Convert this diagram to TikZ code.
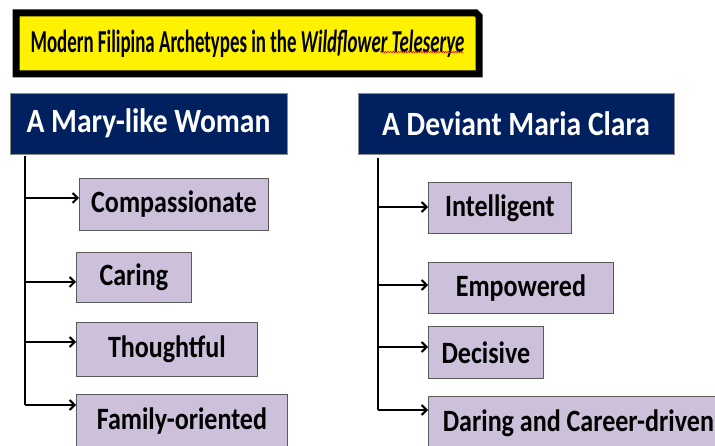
\documentclass[tikz,border=0pt]{standalone}
\usepackage{fontspec}
\setmainfont{Carlito}
\newfontfamily\titlefont[FakeStretch=0.59]{Carlito}
\newfontfamily\headfont[FakeStretch=0.87]{Carlito}
\newfontfamily\boxfont[FakeStretch=0.84]{Carlito}
\usepackage{tikz}
\usetikzlibrary{shapes,arrows.meta,decorations.pathmorphing}
\definecolor{navy}{HTML}{002060}
\definecolor{lavender}{HTML}{CCC0DA}

\begin{document}
\begin{tikzpicture}[x=1pt,y=-1pt]
\tikzstyle{titlebox}=[chamfered rectangle,chamfered rectangle corners=north east,chamfered rectangle xsep=1.5pt,chamfered rectangle ysep=1.5pt,draw=black,line width=7pt,fill=yellow,minimum width=463pt,minimum height=61pt,font={\titlefont\bfseries\fontsize{32}{32}\selectfont}]
\tikzstyle{headbox}=[draw=black!45,line width=0.8pt,fill=navy,text=white,minimum height=61pt,font={\headfont\bfseries\fontsize{34}{34}\selectfont}]
\tikzstyle{trait}=[draw=black!65,line width=0.8pt,fill=lavender,anchor=north west,font={\boxfont\bfseries\fontsize{31}{31}\selectfont}]
\tikzstyle{trunk}=[line width=2.2pt]
\tikzstyle{branch}=[-{Straight Barb[length=5pt,width=10pt,line width=2pt]},line width=2.2pt]

\useasboundingbox (0,0) rectangle (715,446);

\node [titlebox] (title) at (247.5,43.5) {Modern Filipina Archetypes in the \textit{Wildflower Teleserye}};
\draw [red,line width=0.6pt,decorate,decoration={snake,amplitude=0.7pt,segment length=2.5pt}] (380,52) -- (463,52);

\node [headbox,minimum width=277pt] (mary) at (148.5,123.5) {A Mary-like Woman};
\node [headbox,minimum width=316pt] (clara) at (516,123.5) {A Deviant Maria Clara};

% left column
\node [trait,minimum width=189pt,minimum height=52pt] (comp) at (79,178) {Compassionate};
\node [trait,minimum width=115pt,minimum height=50pt] (caring) at (76,252) {Caring};
\node [trait,minimum width=181pt,minimum height=54pt] (thought) at (76,322) {Thoughtful};
\node [trait,minimum width=211pt,minimum height=54pt] (family) at (76,394) {Family-oriented};

% right column
\node [trait,minimum width=143pt,minimum height=51pt] (intel) at (428,182) {Intelligent};
\node [trait,minimum width=185pt,minimum height=51pt] (empow) at (428,262) {Empowered};
\node [trait,minimum width=115pt,minimum height=52pt] (decis) at (428,326) {Decisive};
\node [trait,minimum width=300pt,minimum height=54pt] (daring) at (428,396) {Daring and Career-driven};

\coordinate (m0) at (25,156);
\coordinate (m1) at (25,198);
\coordinate (m2) at (25,282);
\coordinate (m3) at (25,342);
\coordinate (m4) at (25,405);
\coordinate (c0) at (378,158);
\coordinate (c1) at (378,207);
\coordinate (c2) at (378,285);
\coordinate (c3) at (378,347);
\coordinate (c4) at (378,410);

\draw [trunk] (m0) -- (m4);
\draw [trunk] (c0) -- (c4);

\path [branch]
 (m1) edge (m1 -| comp.west)
 (m2) edge (m2 -| caring.west)
 (m3) edge (m3 -| thought.west)
 (m4) edge (m4 -| family.west)
 (c1) edge (c1 -| intel.west)
 (c2) edge (c2 -| empow.west)
 (c3) edge (c3 -| decis.west)
 (c4) edge (c4 -| daring.west);
\end{tikzpicture}
\end{document}
